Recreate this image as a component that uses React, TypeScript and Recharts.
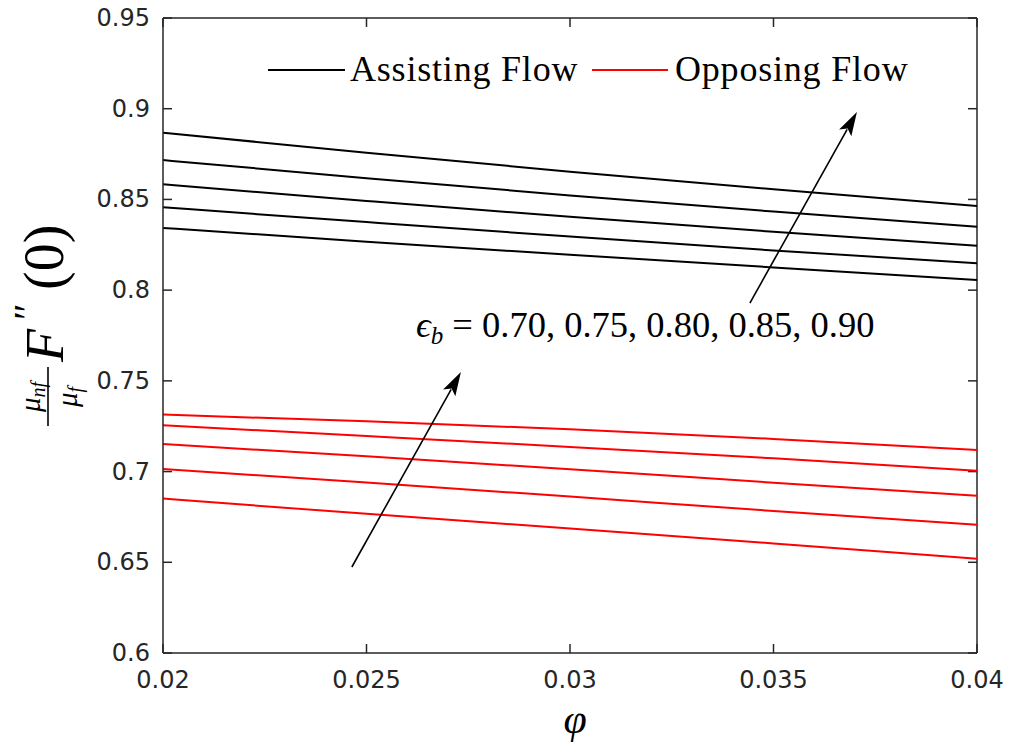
import React from 'react';
import {
  LineChart,
  Line,
  XAxis,
  YAxis,
  ReferenceLine,
} from 'recharts';

// volume fraction (x axis)
const PHI = [0.02, 0.025, 0.03, 0.035, 0.04];

// assisting flow, eps_b = 0.70 .. 0.90
const ASSIST_070 = [0.8343, 0.8267, 0.8195, 0.8125, 0.8056];
const ASSIST_075 = [0.8457, 0.8375, 0.8295, 0.8219, 0.8148];
const ASSIST_080 = [0.8583, 0.8492, 0.8404, 0.8322, 0.8245];
const ASSIST_085 = [0.8717, 0.8617, 0.8522, 0.8433, 0.835];
const ASSIST_090 = [0.8868, 0.8757, 0.8653, 0.8556, 0.8464];

// opposing flow, eps_b = 0.70 .. 0.90
const OPPOSE_070 = [0.6851, 0.6767, 0.6686, 0.6604, 0.652];
const OPPOSE_075 = [0.7014, 0.694, 0.6862, 0.6783, 0.6707];
const OPPOSE_080 = [0.7152, 0.7084, 0.7013, 0.6939, 0.6867];
const OPPOSE_085 = [0.7255, 0.7196, 0.7136, 0.7073, 0.7005];
const OPPOSE_090 = [0.7314, 0.7277, 0.7233, 0.718, 0.7119];

const X_TICKS = [0.02, 0.025, 0.03, 0.035, 0.04];
const Y_TICKS = [0.6, 0.65, 0.7, 0.75, 0.8, 0.85, 0.9, 0.95];
const X_MIN = 0.02;
const X_MAX = 0.04;
const Y_MIN = 0.6;
const Y_MAX = 0.95;

const LEGEND = [
  { label: 'Assisting Flow', color: '#000000' },
  { label: 'Opposing Flow', color: '#ff0000' },
];

// arrow annotations: [x0, y0] -> [x1, y1] in data units
const ARROW_UPPER = [[0.03442, 0.7929], [0.03705, 0.8982]];
const ARROW_LOWER = [[0.02464, 0.6474], [0.02732, 0.7549]];

const ASSIST = [ASSIST_070, ASSIST_075, ASSIST_080, ASSIST_085, ASSIST_090];
const OPPOSE = [OPPOSE_070, OPPOSE_075, OPPOSE_080, OPPOSE_085, OPPOSE_090];

const data = PHI.map((phi, i) => {
  const row: any = { phi };
  ASSIST.forEach((s, k) => (row['a' + k] = s[i]));
  OPPOSE.forEach((s, k) => (row['o' + k] = s[i]));
  return row;
});

const AXIS = '#262626';
const TICK_FONT = '"DejaVu Sans", sans-serif';
const SERIF = '"Liberation Serif", "DejaVu Serif", serif';
const TL = 9;

const LeftTick = ({ x, y, payload }: any) => (
  <g>
    <line x1={x + 13} x2={x + 13 + TL} y1={y} y2={y} stroke={AXIS} strokeWidth={1.5} />
    <text x={x} y={y} dy={8} textAnchor="end" fontSize={24} fontFamily={TICK_FONT} fill={AXIS}>
      {payload.value}
    </text>
  </g>
);

const BottomTick = ({ x, y, payload }: any) => (
  <g>
    <line x1={x} x2={x} y1={y} y2={y - TL} stroke={AXIS} strokeWidth={1.5} />
    <text x={x} y={y + 35} textAnchor="middle" fontSize={24} fontFamily={TICK_FONT} fill={AXIS}>
      {payload.value}
    </text>
  </g>
);

// short inward tick drawn at a reference position on the top / right border
const BorderTick = (side: 'top' | 'right') => (props: any) => {
  const { x1, y1, x2, y2 } = props;
  if (side === 'top') {
    return <line x1={x1} x2={x1} y1={y1} y2={y1 + TL} stroke={AXIS} strokeWidth={1.5} />;
  }
  return <line x1={x2 - TL} x2={x2} y1={y2} y2={y2} stroke={AXIS} strokeWidth={1.5} />;
};
const TopTickShape = BorderTick('top');
const RightTickShape = BorderTick('right');

const Arrow = (props: any) => {
  const { x1, y1, x2, y2 } = props;
  const dx = x2 - x1;
  const dy = y2 - y1;
  const len = Math.sqrt(dx * dx + dy * dy);
  const ux = dx / len;
  const uy = dy / len;
  const hl = 24;
  const hw = 7;
  const bx = x2 - ux * hl;
  const by = y2 - uy * hl;
  return (
    <g>
      <line x1={x1} y1={y1} x2={bx + ux * 4} y2={by + uy * 4} stroke="#000" strokeWidth={1.6} />
      <polygon
        points={`${x2},${y2} ${bx - uy * hw},${by + ux * hw} ${bx + ux * 5},${by + uy * 5} ${bx + uy * hw},${by - ux * hw}`}
        fill="#000"
      />
    </g>
  );
};

const App: React.FC = () => {
  return (
    <div style={{ position: 'absolute', left: 0, top: 0, width: 1022, height: 753, background: '#fff' }}>
      <LineChart
        width={1022}
        height={753}
        data={data}
        margin={{ top: 18, right: 45, left: 103, bottom: 70 }}
      >
        <XAxis
          dataKey="phi"
          type="number"
          domain={[X_MIN, X_MAX]}
          ticks={X_TICKS}
          interval={0}
          tickSize={0}
          tickMargin={0}
          height={30}
          stroke={AXIS}
          strokeWidth={1.5}
          tick={<BottomTick />}
          allowDataOverflow
        />
        <YAxis
          type="number"
          domain={[Y_MIN, Y_MAX]}
          ticks={Y_TICKS}
          interval={0}
          tickSize={0}
          tickMargin={13}
          width={60}
          stroke={AXIS}
          strokeWidth={1.5}
          tick={<LeftTick />}
          allowDataOverflow
        />

        {/* box: top and right borders with inward ticks */}
        <ReferenceLine y={Y_MAX} stroke={AXIS} strokeWidth={1.5} />
        <ReferenceLine x={X_MAX} stroke={AXIS} strokeWidth={1.5} />
        {X_TICKS.map((t) => (
          <ReferenceLine
            key={'tx' + t}
            segment={[{ x: t, y: Y_MAX }, { x: t, y: Y_MAX }]}
            shape={<TopTickShape />}
          />
        ))}
        {Y_TICKS.map((t) => (
          <ReferenceLine
            key={'ty' + t}
            segment={[{ x: X_MAX, y: t }, { x: X_MAX, y: t }]}
            shape={<RightTickShape />}
          />
        ))}

        {ASSIST.map((_, k) => (
          <Line
            key={'a' + k}
            dataKey={'a' + k}
            type="monotone"
            stroke="#000000"
            strokeWidth={2}
            dot={false}
            activeDot={false}
            isAnimationActive={false}
          />
        ))}
        {OPPOSE.map((_, k) => (
          <Line
            key={'o' + k}
            dataKey={'o' + k}
            type="monotone"
            stroke="#ff0000"
            strokeWidth={2}
            dot={false}
            activeDot={false}
            isAnimationActive={false}
          />
        ))}
        <ReferenceLine
          segment={[{ x: ARROW_UPPER[0][0], y: ARROW_UPPER[0][1] }, { x: ARROW_UPPER[1][0], y: ARROW_UPPER[1][1] }]}
          shape={<Arrow />}
        />
        <ReferenceLine
          segment={[{ x: ARROW_LOWER[0][0], y: ARROW_LOWER[0][1] }, { x: ARROW_LOWER[1][0], y: ARROW_LOWER[1][1] }]}
          shape={<Arrow />}
        />
      </LineChart>

      <svg
        width={1022}
        height={753}
        style={{ position: 'absolute', left: 0, top: 0, pointerEvents: 'none' }}
      >
        {/* legend */}
        <line x1={268} x2={345} y1={70} y2={70} stroke={LEGEND[0].color} strokeWidth={2} />
        <text x={350} y={81} fontSize={36} letterSpacing={0.8} fontFamily={SERIF} fill="#000">
          {LEGEND[0].label}
        </text>
        <line x1={592} x2={668} y1={70} y2={70} stroke={LEGEND[1].color} strokeWidth={2} />
        <text x={675} y={81} fontSize={36} letterSpacing={0.8} fontFamily={SERIF} fill="#000">
          {LEGEND[1].label}
        </text>

        <text x={416} y={337} fontSize={36.5} fontFamily={SERIF} fill="#000">
          <tspan fontStyle="italic">ϵ</tspan>
          <tspan fontStyle="italic" fontSize={25} dy={7}>b</tspan>
          <tspan dy={-7}> = 0.70, 0.75, 0.80, 0.85, 0.90</tspan>
        </text>

        <text x={575} y={733} fontSize={42} fontStyle="italic" fontFamily={SERIF} textAnchor="middle" fill="#000">
          φ
        </text>

        <g transform="translate(55,300) rotate(-90)" fontFamily={SERIF} fill="#000">
          <text x={-97} y={-15} fontSize={29} fontStyle="italic" textAnchor="middle">
            μ<tspan fontSize={20} dy={5}>nf</tspan>
          </text>
          <line x1={-126} x2={-67} y1={-7} y2={-7} stroke="#000" strokeWidth={1.6} />
          <text x={-97} y={22} fontSize={29} fontStyle="italic" textAnchor="middle">
            μ<tspan fontSize={20} dy={5}>f</tspan>
          </text>
          <text x={-62} y={8} fontSize={54} fontStyle="italic">F</text>
          <text x={-20} y={-14} fontSize={40}>″</text>
          <text x={10} y={8} fontSize={56}>(0)</text>
        </g>
      </svg>
    </div>
  );
};

export default App;
